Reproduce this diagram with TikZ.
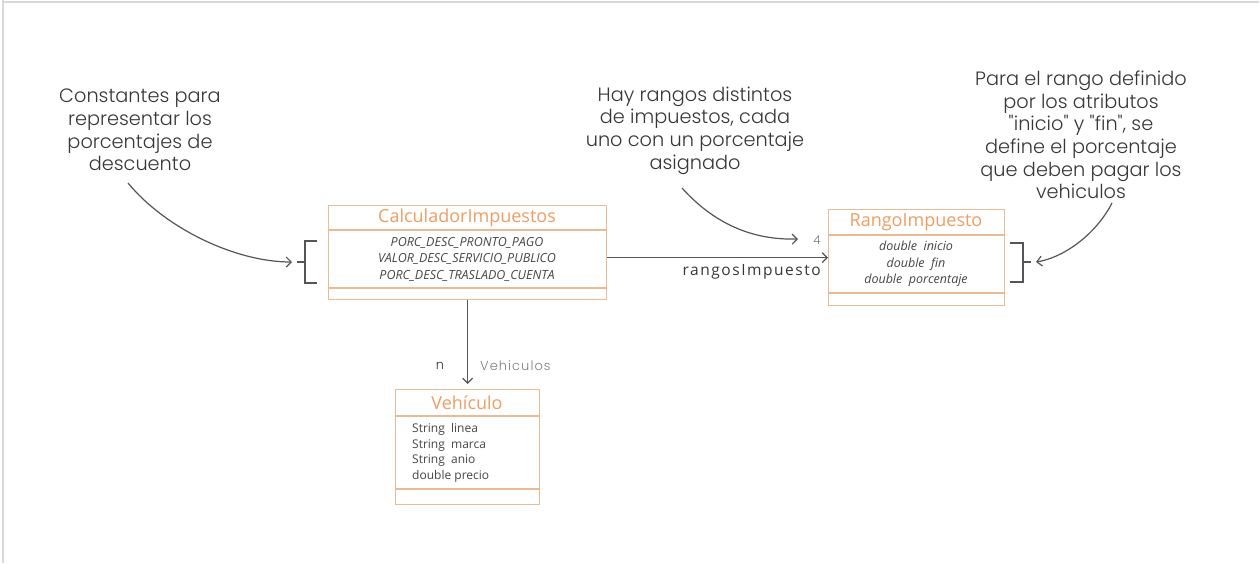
\documentclass[tikz,border=0pt]{standalone}
\usepackage{fontspec}
\usetikzlibrary{arrows.meta}
\IfFontExistsTF{Poppins Light}{\newfontfamily\handfont{Poppins Light}}{\newfontfamily\handfont{Poppins}}
\newfontfamily\umlfont{Open Sans}
\definecolor{boxline}{RGB}{234,186,148}
\definecolor{headtxt}{RGB}{238,158,100}
\definecolor{attrtxt}{RGB}{70,70,70}
\definecolor{linecol}{RGB}{85,85,85}
\definecolor{framecol}{RGB}{217,217,217}
\definecolor{handtxt}{RGB}{55,55,55}
\tikzset{
  umlbox/.style={draw=boxline, line width=1.2pt, fill=white, inner sep=0pt, anchor=north west},
  divider/.style={draw=boxline, line width=1.2pt},
  headlabel/.style={font=\umlfont\fontsize{18}{20}\selectfont, text=headtxt, inner sep=0pt},
  attrlabel/.style={font=\umlfont\itshape\fontsize{12.5}{16.5}\selectfont, text=attrtxt, align=center, inner sep=0pt},
  note/.style={font=\handfont\fontsize{19.3}{22.6}\selectfont, text=handtxt, align=center, inner sep=0pt},
  conn/.style={draw=linecol, line width=1.2pt, -{Straight Barb[length=5pt,width=10pt,line width=1.2pt]}},
  brack/.style={draw=linecol, line width=1.2pt},
}
\begin{document}
\begin{tikzpicture}[x=1pt,y=-1pt]
\useasboundingbox (0,0) rectangle (1260,563);
% frame
\draw[framecol, line width=2pt] (2,1.5) -- (1259,1.5);
\draw[framecol, line width=1.6pt] (3,0) -- (3,563);

% CalculadorImpuestos
\node[umlbox, minimum width=278pt, minimum height=94pt] (calc) at (328,205) {};
\draw[divider] (328,230) -- (606,230);
\draw[divider] (328,288) -- (606,288);
\node[headlabel] (calchead) at (467,218) {CalculadorImpuestos};
\node[attrlabel] (calcattr) at (467,259) {PORC\_DESC\_PRONTO\_PAGO\\VALOR\_DESC\_SERVICIO\_PUBLICO\\PORC\_DESC\_TRASLADO\_CUENTA};

% RangoImpuesto
\node[umlbox, minimum width=176pt, minimum height=96pt] (rango) at (828,209) {};
\draw[divider] (828,235) -- (1004,235);
\draw[divider] (828,293) -- (1004,293);
\node[headlabel] (rangohead) at (916,222) {RangoImpuesto};
\node[attrlabel] (rangoattr) at (916,264) {double\ \ inicio\\double\ \ fin\\double\ \ porcentaje};

% Vehiculo
\node[umlbox, minimum width=144pt, minimum height=115pt] (vehic) at (395,389) {};
\draw[divider] (395,416) -- (539,416);
\draw[divider] (395,489) -- (539,489);
\node[headlabel] (vehichead) at (467,403) {Vehículo};
\node[font=\umlfont\fontsize{12}{15.7}\selectfont, text=attrtxt, align=left, anchor=west, inner sep=0pt] (vehicattr) at (412,453) {String\ \ linea\\String\ \ marca\\String\ \ anio\\double precio};

% associations
\draw[conn] (calc.east |- rango.west) -- (rango.west);
\node[font=\umlfont\fontsize{15.5}{18}\selectfont\addfontfeature{LetterSpace=10}, text=handtxt, anchor=east, inner sep=0pt] (rlabel) at (821,272) {rangosImpuesto};
\draw[conn, shorten >=5pt] (calc.south) -- (vehic.north);
\node[font=\handfont\fontsize{13}{14}\selectfont, text=handtxt, inner sep=0pt] (nlabel) at (440,366) {n};
\node[font=\handfont\fontsize{13}{14}\selectfont\addfontfeature{LetterSpace=8}, text=linecol!75, anchor=west, inner sep=0pt] (vlabel) at (480,366) {Vehiculos};

% annotations
\node[note] (note1) at (140,130) {Constantes para\\representar los\\porcentajes de\\descuento};
\node[note] (note2) at (695,130.5) {Hay rangos distintos\\de impuestos, cada\\uno con un porcentaje\\asignado};
\node[note] (note3) at (1081,135) {Para el rango definido\\por los atributos\\"inicio" y "fin", se\\define el porcentaje\\que deben pagar los\\vehiculos};

% left bracket
\coordinate (lbt) at (297,262);
\coordinate (lb) at (292,262);
\draw[brack] (317,241) -- (305,241) -- (305,283) -- (317,283);
\draw[brack] (305,262) -- (lbt);
\draw[conn] (128,183) .. controls (165,228) and (235,262) .. (lb);

% right bracket
\coordinate (rbt) at (1031,262);
\coordinate (rb) at (1036,262);
\draw[brack] (1010,243) -- (1023,243) -- (1023,282) -- (1010,282);
\draw[brack] (1023,262) -- (rbt);
\draw[conn] (1112,203) .. controls (1095,236) and (1062,258) .. (rb);

% middle annotation arrow
\coordinate (mid) at (798,239);
\draw[conn] (682,188) .. controls (718,228) and (758,240) .. (mid);
\node[font=\handfont\fontsize{12}{14}\selectfont, text=linecol!80, inner sep=0pt] (four) at (817,240) {4};
\end{tikzpicture}
\end{document}
